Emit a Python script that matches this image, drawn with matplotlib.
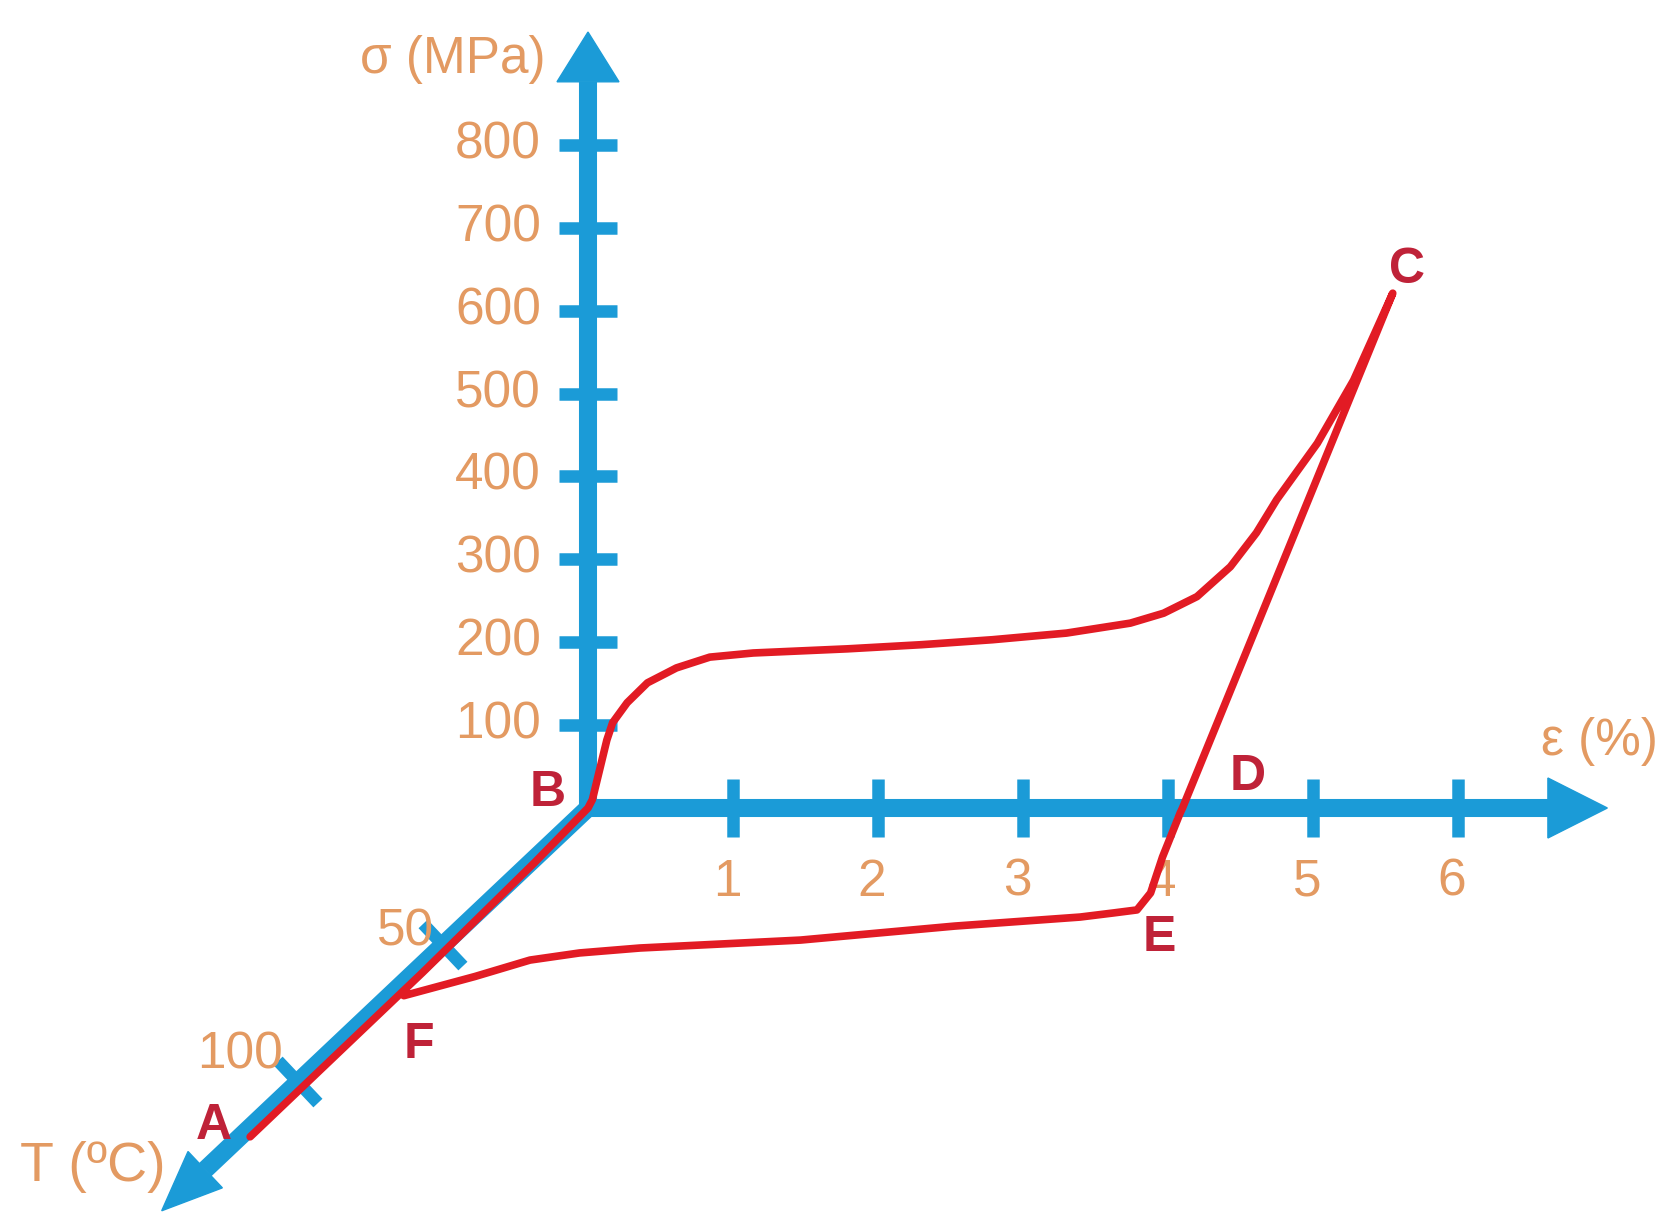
import matplotlib
matplotlib.use('Agg')
import numpy as np
import matplotlib.pyplot as plt
from matplotlib.patches import Polygon

plt.rcParams['font.family'] = ['Liberation Sans', 'DejaVu Sans']

# path A -> B -> C -> D -> E -> F : strain (%), stress (MPa), temperature (C)
strain = [0.07, 0.06, 0.03, 0.0,
          0.03, 0.08, 0.13, 0.17, 0.27, 0.41, 0.61, 0.84, 1.14, 1.79, 2.30, 2.79,
          3.30, 3.74, 3.97, 4.20, 4.43, 4.61, 4.75, 5.03, 5.28, 5.55,
          4.10, 4.12, 4.32, 4.50, 4.53, 4.39, 4.19, 3.39, 2.43, 1.38, 1.00, 0.71,
          0.45, 0.10]
stress = [0, 0, 0, 0,
          10, 46, 82, 103, 127, 151, 169, 182, 187, 192, 197, 203,
          211, 223, 235, 255, 291, 332, 372, 440, 516, 621,
          0, 0, 0, 0, 0, 0, 0, 0, 0, 0, 0, 0,
          0, 0]
temp = [120, 60, 20, 0,
        0, 0, 0, 0, 0, 0, 0, 0, 0, 0, 0, 0,
        0, 0, 0, 0, 0, 0, 0, 0, 0, 0,
        0, 1.8, 17.9, 31.0, 37.2, 38.3, 39.8, 43.1, 48.2, 51.1, 52.9, 55.5,
        61.5, 68.5]

point_names = ['A', 'B', 'C', 'D', 'E', 'F']
point_index = [0, 3, 25, 26, 30, 39]
label_shift = [(-36, -11), (-40, -15), (14, -23), (65, -31), (22, 28), (15, 49)]

strain_ticks = [1, 2, 3, 4, 5, 6]
stress_ticks = [100, 200, 300, 400, 500, 600, 700, 800]
temp_ticks = [50, 100]

BLUE = '#1B9BD7'
RED = '#E21B24'
ORANGE = '#E39A62'
LETTER = '#BF2238'

# oblique projection of (strain, stress, temperature) onto the page
OX, OY = 588, 808
EX, SY = 145.0, 0.829
TX, TY = 2.9, 2.74


def proj(e, s, t):
    e = np.asarray(e, float)
    s = np.asarray(s, float)
    t = np.asarray(t, float)
    return OX + e * EX - t * TX, OY - s * SY + t * TY


fig = plt.figure(figsize=(16.63, 12.16), dpi=100)
ax = fig.add_axes([0, 0, 1, 1])
ax.set_xlim(0, 1663)
ax.set_ylim(1216, 0)
ax.axis('off')

axis_lw = 13
tick_lw = 9
half = 29
tick_fs = 37

# strain axis
x0, y0 = proj(0, 0, 0)
x1, y1 = proj(6.62, 0, 0)
x2, _ = proj(7.03, 0, 0)
ax.plot([x0 - 6, x1], [y0, y1], color=BLUE, lw=axis_lw, solid_capstyle='butt')
ax.add_patch(Polygon([[x1, y1 - 30], [x2, y1], [x1, y1 + 30]], color=BLUE))
for v in strain_ticks:
    tx, ty = proj(v, 0, 0)
    ax.plot([tx, tx], [ty - half, ty + half], color=BLUE, lw=tick_lw, solid_capstyle='butt')
    ax.text(tx - 6, ty + 74, str(v), color=ORANGE, fontsize=tick_fs, ha='center', va='center')

# stress axis
x1, y1 = proj(0, 876, 0)
_, y2 = proj(0, 936, 0)
ax.plot([x0, x1], [y0 + 6, y1], color=BLUE, lw=axis_lw, solid_capstyle='butt')
ax.add_patch(Polygon([[x1 - 31, y1], [x1, y2], [x1 + 31, y1]], color=BLUE))
for v in stress_ticks:
    tx, ty = proj(0, v, 0)
    ax.plot([tx - half, tx + half], [ty, ty], color=BLUE, lw=tick_lw, solid_capstyle='butt')
    ax.text(tx - 47, ty, str(v), color=ORANGE, fontsize=tick_fs, ha='right', va='center')

# temperature axis
x1, y1 = proj(0, 0, 132)
x2, y2 = proj(0, 0, 147)
ax.plot([x0, x1], [y0, y1], color=BLUE, lw=axis_lw, solid_capstyle='butt')
d = np.array([x2 - x1, y2 - y1])
d = d / np.hypot(*d)
n = np.array([d[1], -d[0]])
ax.add_patch(Polygon([[x1 + 25 * n[0], y1 + 25 * n[1]], [x2, y2],
                      [x1 - 25 * n[0], y1 - 25 * n[1]]], color=BLUE))
for v, off in zip(temp_ticks, [(-37, -13), (-58, -27)]):
    tx, ty = proj(0, 0, v)
    ax.plot([tx - half * n[0], tx + half * n[0]], [ty - half * n[1], ty + half * n[1]],
            color=BLUE, lw=tick_lw, solid_capstyle='butt')
    ax.text(tx + off[0], ty + off[1], str(v), color=ORANGE, fontsize=tick_fs, ha='center', va='center')

# axis titles
ax.text(546, 60, 'σ (MPa)', color=ORANGE, fontsize=37, ha='right', va='center')
ax.text(1658, 742, 'ε (%)', color=ORANGE, fontsize=37, ha='right', va='center')
ax.text(20, 1167, 'T (ºC)', color=ORANGE, fontsize=40, ha='left', va='center')

# stress-strain-temperature path
px, py = proj(strain, stress, temp)
ax.plot(px, py, color=RED, lw=5.5, solid_joinstyle='round', solid_capstyle='round', zorder=5)

for name, i, (dx, dy) in zip(point_names, point_index, label_shift):
    ax.text(px[i] + dx, py[i] + dy, name, color=LETTER, fontsize=36, fontweight='bold',
            ha='center', va='center', zorder=6)

fig.savefig('out.png', dpi=100, facecolor='white')
